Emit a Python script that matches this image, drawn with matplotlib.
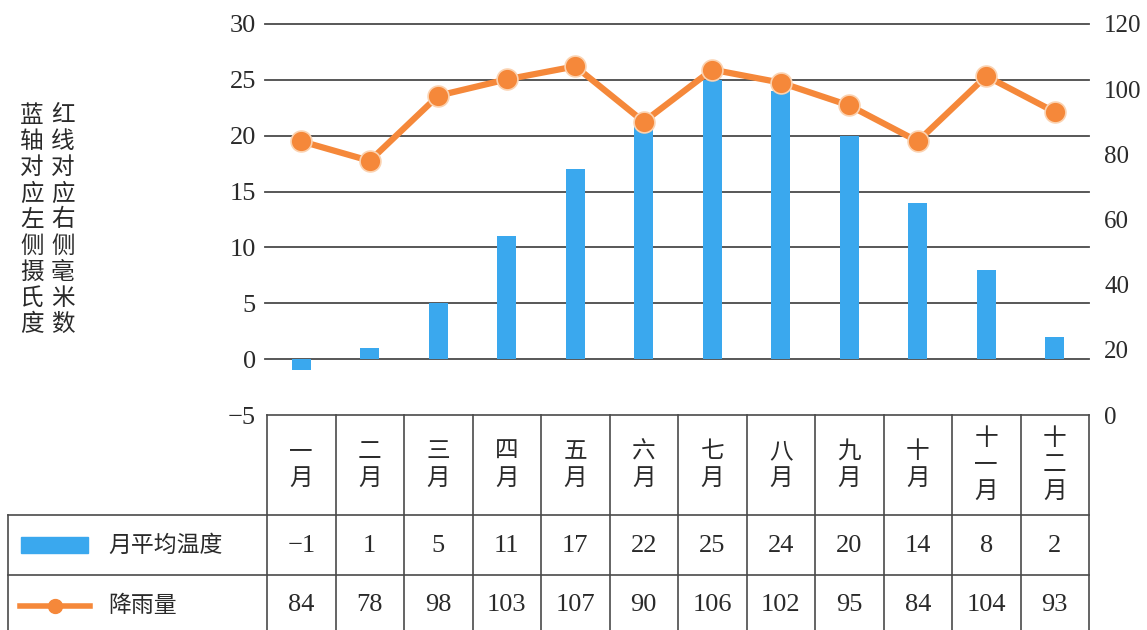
import matplotlib
matplotlib.use("Agg")
import matplotlib.pyplot as plt
import numpy as np

# data
months = ["一月", "二月", "三月", "四月", "五月", "六月",
          "七月", "八月", "九月", "十月", "十一月", "十二月"]
temp = [-1, 1, 5, 11, 17, 22, 25, 24, 20, 14, 8, 2]
rain = [84, 78, 98, 103, 107, 90, 106, 102, 95, 84, 104, 93]
temp_ticks = [-5, 0, 5, 10, 15, 20, 25, 30]
rain_ticks = [0, 20, 40, 60, 80, 100, 120]
temp_name = "月平均温度"
rain_name = "降雨量"
side_left = "蓝轴对应左侧摄氏度"
side_right = "红线对应右侧毫米数"

BLUE = "#3aa8ee"
ORANGE = "#f5883a"
GRID = "#4a4a4a"
TXT = "#2a2a2a"
NUM = ["Liberation Serif", "DejaVu Serif"]
CJK = ["Noto Sans CJK SC", "DejaVu Sans"]

W, H = 1147, 630
fig = plt.figure(figsize=(W / 100, H / 100), dpi=100)

# layout in pixels
x0, x1 = 267, 1089          # plot / table columns
y_top, y_bot = 24, 415      # 30 and -5 on the left axis
row2, row3 = 515, 575       # table row tops
leg_left = 8

ax = fig.add_axes([x0 / W, 1 - y_bot / H, (x1 - x0) / W, (y_bot - y_top) / H])
x = np.arange(len(months))
ax.set_xlim(-0.5, len(months) - 0.5)
ax.set_ylim(temp_ticks[0], temp_ticks[-1])
ax.set_yticks(temp_ticks)
ax.set_yticklabels([f"{t}".replace("-", "\u2212") for t in temp_ticks],
                   fontfamily=NUM, fontsize=19, color=TXT)
ax.tick_params(axis="y", length=0, pad=8)
ax.set_xticks([])
for s in ax.spines.values():
    s.set_visible(False)
for t in temp_ticks[1:]:
    ax.axhline(t, color=GRID, lw=1.3, zorder=1, xmin=-0.003, clip_on=False)
ax.bar(x, temp, width=0.28, color=BLUE, zorder=2)

ax2 = ax.twinx()
ax2.set_ylim(rain_ticks[0], rain_ticks[-1])
ax2.set_yticks(rain_ticks)
ax2.set_yticklabels([str(t) for t in rain_ticks], fontfamily=NUM, fontsize=18, color=TXT)
ax2.tick_params(axis="y", length=0, pad=11)
for s in ax2.spines.values():
    s.set_visible(False)
ax2.plot(x, rain, color=ORANGE, lw=4.5, marker="o", ms=15,
         mfc=ORANGE, mec="#fbd2b0", mew=1.2, zorder=3, solid_capstyle="round")

# side note, two vertical columns
fig.text(32 / W, 1 - 220 / H, "\n".join(side_left), fontfamily=CJK, fontsize=17,
         color=TXT, ha="center", va="center", linespacing=1.17)
fig.text(63 / W, 1 - 220 / H, "\n".join(side_right), fontfamily=CJK, fontsize=17,
         color=TXT, ha="center", va="center", linespacing=1.17)

# table drawn on a full-figure overlay
tb = fig.add_axes([0, 0, 1, 1])
tb.set_xlim(0, W)
tb.set_ylim(H, 0)
tb.axis("off")
cw = (x1 - x0) / len(months)
lk = dict(color=GRID, lw=1.2)
tb.plot([x0, x1], [y_bot, y_bot], **lk)
tb.plot([leg_left, x1], [row2, row2], **lk)
tb.plot([leg_left, x1], [row3, row3], **lk)
for i in range(len(months) + 1):
    tb.plot([x0 + i * cw, x0 + i * cw], [y_bot, H], **lk)
tb.plot([leg_left, leg_left], [row2, H], **lk)

for i, m in enumerate(months):
    cx = x0 + (i + 0.5) * cw
    tb.text(cx, (y_bot + row2) / 2, "\n".join(m), fontfamily=CJK, fontsize=17,
            color=TXT, ha="center", va="center", linespacing=1.2)
    tb.text(cx, (row2 + row3) / 2 + 1, f"{temp[i]}".replace("-", "\u2212"),
            fontfamily=NUM, fontsize=19, color=TXT, ha="center", va="center")
    tb.text(cx, 605, str(rain[i]), fontfamily=NUM, fontsize=19, color=TXT,
            ha="center", va="center")

# legend cells
tb.add_patch(plt.Rectangle((21, 537), 67, 16, color=BLUE))
tb.text(108, 545, temp_name, fontfamily=CJK, fontsize=16.5, color=TXT, va="center")
tb.plot([20, 90], [606, 606], color=ORANGE, lw=4)
tb.plot([55], [606], "o", color=ORANGE, ms=10)
tb.text(108, 605, rain_name, fontfamily=CJK, fontsize=16.5, color=TXT, va="center")

fig.savefig("out.png", dpi=100)
